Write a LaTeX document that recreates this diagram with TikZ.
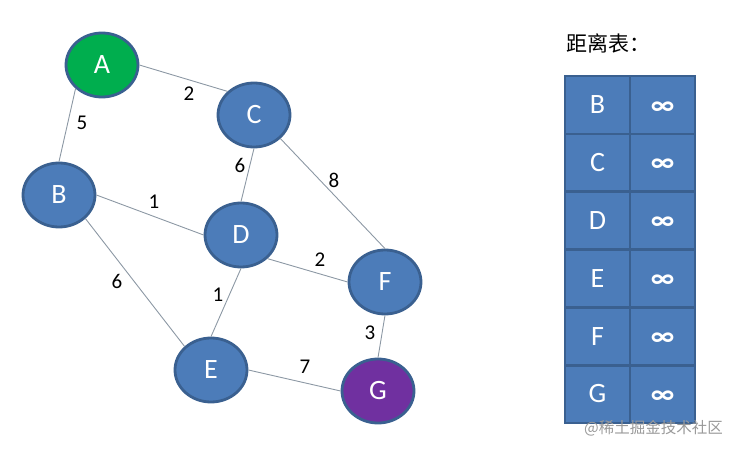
\documentclass[tikz,border=0pt]{standalone}
\usepackage{fontspec}
\setmainfont{Carlito}
\newfontfamily\cjk{Noto Sans CJK SC}
\tikzset{
  vertex/.style={draw=vertexline, line width=2.8pt, ellipse, fill=vertexblue, text=white, minimum width=72pt, minimum height=64pt, inner sep=0pt, font=\fontsize{28}{28}\selectfont},
  cell/.style={draw=vertexline, line width=2.8pt, fill=vertexblue, text=white, minimum width=65pt, minimum height=57.8pt, inner sep=0pt, font=\fontsize{28}{28}\selectfont},
  inf/.style={cell, text height=18pt, text depth=0pt, font=\fontsize{28}{28}\selectfont\bfseries},
  weight/.style={inner sep=0pt, font=\fontsize{21}{21}\selectfont},
  edge/.style={draw=edgegray, line width=0.9pt}
}
\usetikzlibrary{shapes.geometric}
\definecolor{vertexblue}{HTML}{4C7CB9}
\definecolor{vertexline}{HTML}{3A6090}
\definecolor{edgegray}{HTML}{8C98A4}
\definecolor{startgreen}{HTML}{00AE4E}
\definecolor{endpurple}{HTML}{7030A0}
\begin{document}
\begin{tikzpicture}[x=1pt,y=-1pt]
\useasboundingbox (0,0) rectangle (737,452);
%Graph
\node[vertex, fill=startgreen] (A) at (102,65) {A};
\node[vertex] (C) at (254,115) {C};
\node[vertex] (B) at (59,195) {B};
\node[vertex] (D) at (241,235) {D};
\node[vertex] (F) at (385,282) {F};
\node[vertex] (E) at (211,370) {E};
\node[vertex, fill=endpurple] (G) at (378,391) {G};
\draw[edge] (A.east) -- (C.north west);
\draw[edge] (A.south west) -- (B.north);
\draw[edge] (C.south) -- (D.north);
\draw[edge] (C.south east) -- (F.north);
\draw[edge] (B.east) -- (D.west);
\draw[edge] (B.south east) -- (E.north west);
\draw[edge] (D.south) -- (E.north);
\draw[edge] (D.south east) -- (F.west);
\draw[edge] (F.south) -- (G.north);
\draw[edge] (E.east) -- (G.west);
\node[weight] (wAC) at (189,94) {2};
\node[weight] (wAB) at (82,123) {5};
\node[weight] (wCD) at (240,165) {6};
\node[weight] (wCF) at (334,180) {8};
\node[weight] (wBD) at (154,202) {1};
\node[weight] (wBE) at (117,281) {6};
\node[weight] (wDE) at (218,295) {1};
\node[weight] (wDF) at (320,260) {2};
\node[weight] (wFG) at (370,333) {3};
\node[weight] (wEG) at (305,367) {7};
%Table
\node[anchor=west, inner sep=0pt, font=\cjk\fontsize{21}{21}\selectfont] (title) at (566,43) {距离表：};
\node[cell] (nameB) at (597.5,105) {B};
\node[inf] (distB) at (662.5,105) {∞};
\node[cell] (nameC) at (597.5,162.8) {C};
\node[inf] (distC) at (662.5,162.8) {∞};
\node[cell] (nameD) at (597.5,220.6) {D};
\node[inf] (distD) at (662.5,220.6) {∞};
\node[cell] (nameE) at (597.5,278.4) {E};
\node[inf] (distE) at (662.5,278.4) {∞};
\node[cell] (nameF) at (597.5,336.2) {F};
\node[inf] (distF) at (662.5,336.2) {∞};
\node[cell] (nameG) at (597.5,394) {G};
\node[inf] (distG) at (662.5,394) {∞};
%Watermark
\node[anchor=west, inner sep=0pt, text=black!40, font=\cjk\fontsize{15.5}{15.5}\selectfont] (mark) at (584,428) {@稀土掘金技术社区};
\end{tikzpicture}
\end{document}
